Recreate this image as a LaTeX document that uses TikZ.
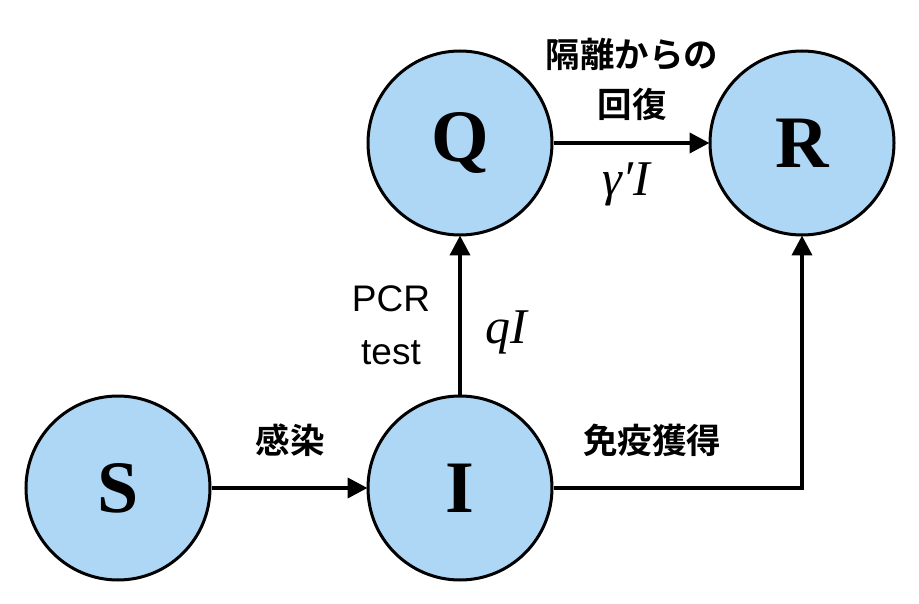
\documentclass[tikz,border=0pt]{standalone}
\usepackage{fontspec}
\setmainfont{Liberation Serif}
\setsansfont{Liberation Sans}
\newfontfamily\cjkfont{Noto Sans CJK JP Bold}
\usetikzlibrary{arrows.meta}
\definecolor{nodeblue}{RGB}{174,214,245}
\tikzset{
  state/.style={circle, draw=black, line width=3pt, fill=nodeblue, minimum size=184pt, inner sep=0pt,
    font=\fontsize{74}{80}\selectfont\bfseries},
  arr/.style={line width=4pt, -{Triangle[length=20pt,width=20pt]}, shorten >=-1pt},
  jlabel/.style={font=\cjkfont\fontsize{34.5}{40}\selectfont, inner sep=0pt},
  elabel/.style={font=\sffamily\fontsize{37}{44}\selectfont, inner sep=0pt, align=center},
  mlabel/.style={font=\itshape\fontsize{50}{54}\selectfont, inner sep=0pt}
}
\begin{document}
\begin{tikzpicture}[x=1pt,y=-1pt]
\useasboundingbox (0,0) rectangle (919,604);
\node[state] (S) at (118,488) {S};
\node[state] (I) at (460,488) {I};
\node[state] (Q) at (460,143) {Q};
\node[state] (R) at (802,143) {R};
\draw[arr] (S) -- (I);
\draw[arr] (I) -- (Q);
\draw[arr] (Q) -- (R);
\draw[arr] (I.east) -| (R.south);
\node[jlabel] (l1) at (290,440) {感染};
\node[jlabel] (l2) at (652,440) {免疫獲得};
\node[jlabel] (l3) at (632,54) {隔離からの};
\node[jlabel] (l4) at (632,104) {回復};
\node[mlabel] (l5) at (626,184) {γ′I};
\node[elabel] (l6) at (391,299) {PCR};
\node[elabel] (l7) at (391,353) {test};
\node[mlabel] (l8) at (506,332) {qI};
\end{tikzpicture}
\end{document}
